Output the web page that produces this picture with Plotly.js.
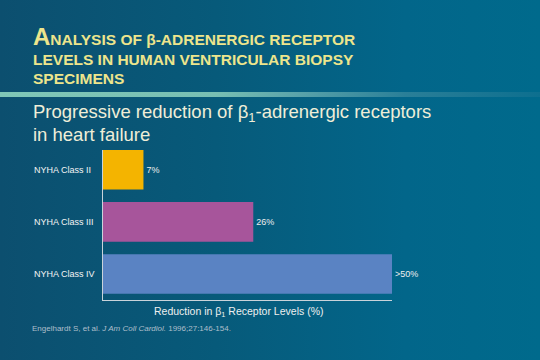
<!DOCTYPE html>
<html>
<head>
<meta charset="utf-8">
<script src="https://cdn.plot.ly/plotly-3.0.1.min.js"></script>
<style>
html,body{margin:0;padding:0;}
body{width:540px;height:360px;overflow:hidden;background:linear-gradient(90deg,#0c4f6f 0%,#075a7a 40%,#02668a 75%,#006a8c 100%);position:relative;}
#rule{position:absolute;left:0;top:92px;width:540px;height:5px;background:linear-gradient(90deg,#80c7b7 0%,#78bfb3 40%,#5aa3aa 55%,#2a7f98 75%,#0d6f8f 100%);}
#chart{position:absolute;left:0;top:0;width:540px;height:360px;}
</style>
</head>
<body>
<div id="rule"></div>
<div id="chart"></div>
<script>
var categories = ["NYHA Class II", "NYHA Class III", "NYHA Class IV"];
var values = [7, 26, 50];
var valueLabels = ["7%", "26%", ">50%"];
var barColors = ["#f4b400", "#a7559b", "#5a83c3"];
var xAxisTitle = "Reduction in β<sub>1</sub> Receptor Levels (%)";
var titleLines = ["<b><span style='font-size:24px'>A</span>NALYSIS OF β-ADRENERGIC RECEPTOR</b>",
                  "<b>LEVELS IN HUMAN VENTRICULAR BIOPSY</b>",
                  "<b>SPECIMENS</b>"];
var subtitleLines = ["Progressive reduction of β<sub>1</sub>-adrenergic receptors", "in heart failure"];
var footnote = "Engelhardt S, et al. <i>J Am Coll Cardiol.</i> 1996;27:146-154.";

var FONT = "Liberation Sans, Arial, sans-serif";
var L = 103, T = 150, W = 289, H = 150;
function px(x){ return (x - L) / W; }
function py(y){ return (T + H - y) / H; }

var annotations = [];
var titleY = [37, 59, 79];
titleLines.forEach(function(t, i){
  annotations.push({xref:'paper', yref:'paper', x:px(31), y:py(titleY[i]), xanchor:'left', yanchor:'middle',
    text:t, showarrow:false, font:{family:FONT, size:15.5, color:'#ede58c'}});
});
var subY = [113, 134];
subtitleLines.forEach(function(t, i){
  annotations.push({xref:'paper', yref:'paper', x:px(31), y:py(subY[i]), xanchor:'left', yanchor:'middle',
    text:t, showarrow:false, font:{family:FONT, size:18.5, color:'#efeed8'}});
});
categories.forEach(function(c){
  annotations.push({xref:'paper', yref:'y', x:px(32), y:c, xanchor:'left', yanchor:'middle',
    text:c, showarrow:false, font:{family:FONT, size:9, color:'#f4f4f4'}});
});
annotations.push({xref:'paper', yref:'paper', x:px(238), y:py(312), xanchor:'center', yanchor:'middle',
  text:xAxisTitle, showarrow:false, font:{family:FONT, size:10.5, color:'#eef0f0'}});
annotations.push({xref:'paper', yref:'paper', x:px(30), y:py(328), xanchor:'left', yanchor:'middle',
  text:footnote, showarrow:false, font:{family:FONT, size:8, color:'#aebfcb'}});

var trace = {
  type:'bar', orientation:'h',
  y: categories, x: values,
  text: valueLabels, textposition:'outside', cliponaxis:false,
  textfont:{family:FONT, size:9, color:'#eeeeee'},
  marker:{color:barColors, line:{width:0}},
  hoverinfo:'none'
};

var layout = {
  width:540, height:360,
  margin:{l:L, r:540-L-W, t:T, b:360-T-H, pad:0},
  paper_bgcolor:'rgba(0,0,0,0)', plot_bgcolor:'rgba(0,0,0,0)',
  showlegend:false, bargap:0.24,
  xaxis:{range:[0,50], showgrid:false, zeroline:false, showticklabels:false, ticks:'',
         showline:true, linecolor:'#c9d3da', linewidth:1, fixedrange:true},
  yaxis:{type:'category', range:[2.5,-0.38], showgrid:false, zeroline:false, showticklabels:false, ticks:'',
         showline:true, linecolor:'#c9d3da', linewidth:1, fixedrange:true},
  annotations: annotations
};

Plotly.newPlot('chart', [trace], layout, {displayModeBar:false, staticPlot:true});
</script>
</body>
</html>
